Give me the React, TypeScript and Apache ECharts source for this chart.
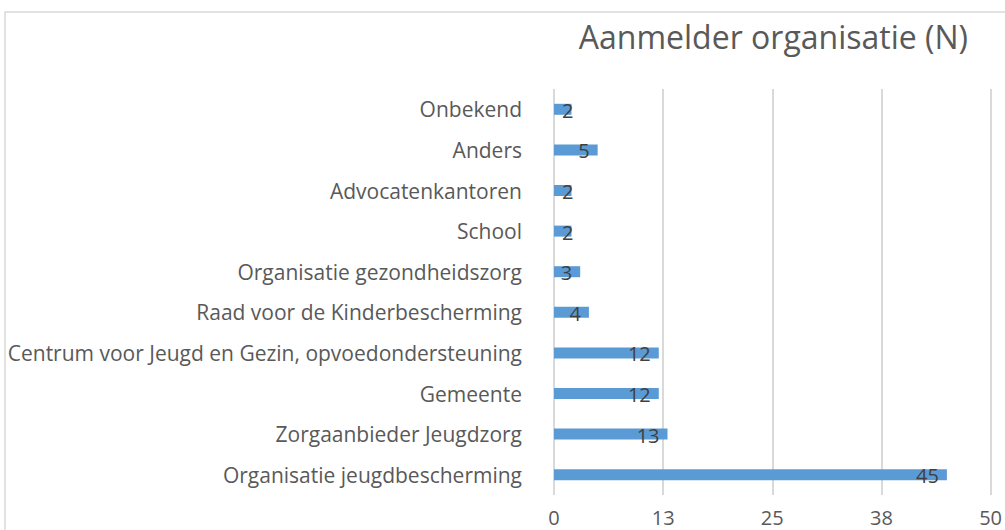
import React, { useEffect, useRef } from "react";
import * as echarts from "echarts";

const categories = [
  "Organisatie jeugdbescherming",
  "Zorgaanbieder Jeugdzorg",
  "Gemeente",
  "Centrum voor Jeugd en Gezin, opvoedondersteuning",
  "Raad voor de Kinderbescherming",
  "Organisatie gezondheidszorg",
  "School",
  "Advocatenkantoren",
  "Anders",
  "Onbekend",
];
const values = [45, 13, 12, 12, 4, 3, 2, 2, 5, 2];
const titleText = "Aanmelder organisatie (N)";
const FONT = "Open Sans";

export default function App() {
  const ref = useRef<HTMLDivElement>(null);
  useEffect(() => {
    if (!ref.current) return;
    const chart = echarts.init(ref.current, null, { renderer: "svg" });
    chart.setOption({
      animation: false,
      backgroundColor: "#ffffff",
      title: {
        text: titleText,
        right: 32,
        top: 15,
        textStyle: { fontFamily: FONT, fontSize: 32, fontWeight: "normal", color: "#595959" },
      },
      graphic: [
        {
          type: "rect",
          shape: { x: 5, y: 12, width: 1020, height: 540 },
          style: { fill: "none", stroke: "#d9d9d9", lineWidth: 1.5 },
          silent: true,
        },
      ],
      grid: { left: 554, right: 9, top: 89, bottom: 35, containLabel: false },
      xAxis: {
        type: "value",
        min: 0,
        max: 50,
        interval: 12.5,
        axisLine: { show: false },
        axisTick: { show: false },
        splitLine: { show: true, lineStyle: { color: "#d9d9d9", width: 2 } },
        axisLabel: {
          color: "#595959",
          fontFamily: FONT,
          fontSize: 20,
          margin: 12,
          formatter: (v: number) => String(Math.round(v)),
        },
      },
      yAxis: {
        type: "category",
        data: categories,
        axisLine: { show: false },
        axisTick: { show: false },
        axisLabel: { color: "#595959", fontFamily: FONT, fontSize: 21, margin: 32 },
      },
      series: [
        {
          type: "bar",
          data: values.map((v) => ({
            value: v,
            label: v <= 2 ? { position: "insideLeft", distance: 8 } : undefined,
          })),
          barWidth: 11,
          itemStyle: { color: "#5b9bd5" },
          label: {
            show: true,
            position: "insideRight",
            distance: 8,
            offset: [0, 1],
            color: "#404040",
            fontFamily: FONT,
            fontSize: 20,
          },
        },
      ],
    });
    return () => chart.dispose();
  }, []);
  return (
    <div
      ref={ref}
      style={{ position: "fixed", left: 0, top: 0, width: 1005, height: 530 }}
    />
  );
}
